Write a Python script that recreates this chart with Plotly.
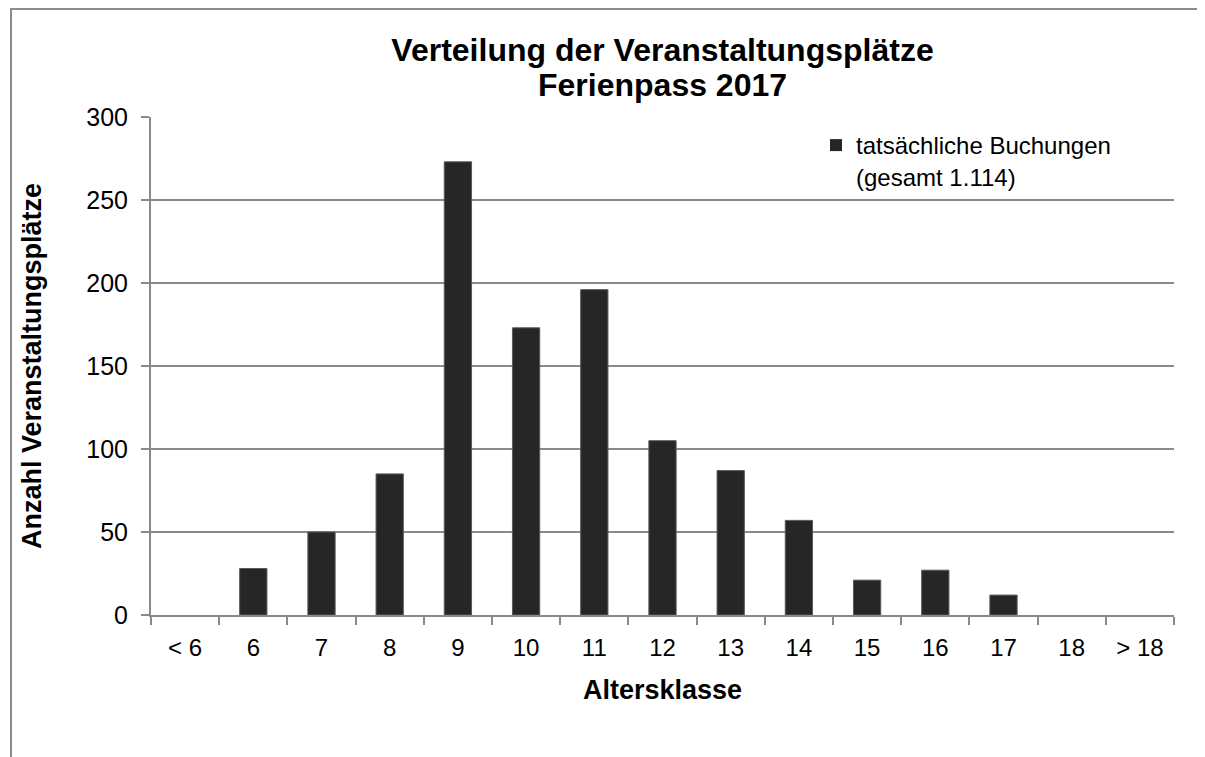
import plotly.graph_objects as go

categories = ["< 6", "6", "7", "8", "9", "10", "11", "12", "13", "14", "15", "16", "17", "18", "> 18"]
bookings = [0, 28, 50, 85, 273, 173, 196, 105, 87, 57, 21, 27, 12, 0, 0]
series_name = "tatsächliche Buchungen<br>(gesamt 1.114)"
title_line1 = "Verteilung der Veranstaltungsplätze"
title_line2 = "Ferienpass 2017"
y_ticks = [0, 50, 100, 150, 200, 250, 300]

OFF = 8  # page body margin
W, H = 1205 - OFF, 757 - OFF
# target screen positions of plot area: left 151, right 1174, top 117, bottom 615
L, T = 151 - OFF, 117 - OFF
R, B = W - (1174 - OFF), H - (615 - OFF)
pw, ph = W - L - R, H - T - B

FONT = "Liberation Sans, Arial, sans-serif"
GRID = "#8a8a8a"


def px_x(sx):
    return (sx - OFF - L) / pw


def px_y(sy):
    return (H - B - (sy - OFF)) / ph


fig = go.Figure()
fig.add_trace(go.Bar(
    x=categories, y=bookings, name=series_name,
    marker=dict(color="#262626",
                line=dict(color="#5a5a5a", width=[0 if v == 0 else 1 for v in bookings])),
    showlegend=True,
))

fig.update_layout(
    width=W, height=H,
    margin=dict(l=L, r=R, t=T, b=B),
    paper_bgcolor="white", plot_bgcolor="white",
    font=dict(family=FONT, color="black", size=24),
    bargap=0.6,
    title=dict(
        text="<b>" + title_line1 + "</b>",
        x=0.5, xref="paper", xanchor="center",
        y=1 - (50 - OFF) / H, yref="container", yanchor="middle",
        font=dict(family=FONT, size=32, color="black"),
    ),
    annotations=[dict(
        text="<b>" + title_line2 + "</b>", xref="paper", yref="paper",
        x=0.5, y=px_y(85), xanchor="center", yanchor="middle", showarrow=False,
        font=dict(family=FONT, size=32, color="black"),
    )],
    showlegend=True,
    legend=dict(
        x=px_x(816), y=px_y(123), xanchor="left", yanchor="top",
        font=dict(family=FONT, size=24, color="black"),
        bgcolor="rgba(0,0,0,0)", valign="top",
        itemwidth=30, tracegroupgap=0,
    ),
    xaxis=dict(
        type="category", categoryorder="array", categoryarray=categories,
        showline=True, linecolor=GRID, linewidth=2,
        ticks="outside", tickson="boundaries", ticklen=8, tickcolor=GRID, tickwidth=2,
        ticklabelstandoff=10,
        tickfont=dict(family=FONT, size=24, color="black"),
        showgrid=False,
        title=dict(text="<b>Altersklasse</b>", font=dict(family=FONT, size=27, color="black"), standoff=20),
    ),
    yaxis=dict(
        range=[0, 300], tickvals=y_ticks,
        showline=True, linecolor=GRID, linewidth=2,
        ticks="outside", ticklen=8, tickcolor=GRID, tickwidth=2,
        ticklabelstandoff=8,
        showgrid=True, gridcolor=GRID, gridwidth=1.6,
        zeroline=False,
        tickfont=dict(family=FONT, size=25, color="black"),
        title=dict(text="<b>Anzahl Veranstaltungsplätze</b>", font=dict(family=FONT, size=27, color="black"), standoff=37),
    ),
    shapes=[dict(
        type="rect", xref="paper", yref="paper",
        x0=px_x(11), x1=1.3, y0=-0.5, y1=px_y(9),
        line=dict(color="#8c8c8c", width=2), fillcolor="rgba(0,0,0,0)", layer="below",
    )],
)

fig.write_html("out.html")
